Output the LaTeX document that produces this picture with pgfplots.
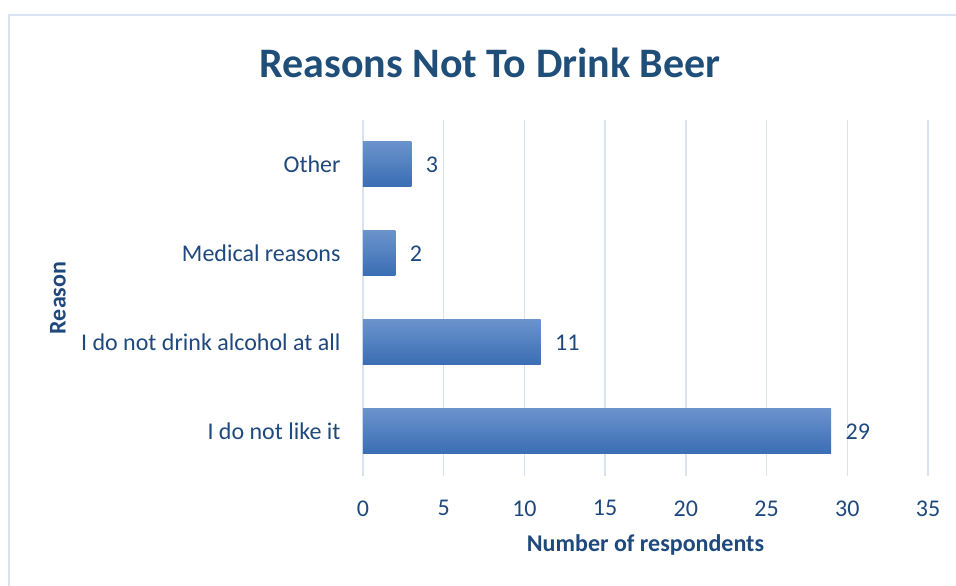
\documentclass[border=0pt]{standalone}
\usepackage{pgfplots}
\pgfplotsset{compat=1.18}
\usepackage{fontspec}
\setmainfont{Carlito}
\definecolor{txt}{HTML}{1F497D}
\definecolor{ttl}{HTML}{1F4E79}
\definecolor{grd}{HTML}{D9E3F2}
\definecolor{bartop}{HTML}{6A93CC}
\definecolor{barbot}{HTML}{3A6DB4}
\begin{document}
\begin{tikzpicture}[x=1pt,y=1pt]
\useasboundingbox (0,0) rectangle (956,586);
\draw[grd, line width=2pt] (9,0) -- (9,571) -- (956,571);
\node[font=\bfseries\fontsize{42}{48}\selectfont, text=ttl] at (490,523) {Reasons Not To Drink Beer};
\begin{axis}[at={(363pt,110pt)}, anchor=south west, width=565pt, height=356pt, scale only axis,
 xbar, bar shift=0pt, xmin=0, xmax=35, ymin=0.5, ymax=4.5,
 xtick={0,5,...,35}, ytick={1,2,3,4},
 yticklabels={I do not like it, I do not drink alcohol at all, Medical reasons, Other},
 axis line style={draw=none}, major tick length=0pt,
 xmajorgrids, grid style={grd, line width=1.5pt},
 tick label style={font=\fontsize{24}{28}\selectfont, text=txt},
 /pgf/number format/assume math mode=true,
 xticklabel style={yshift=-21pt},
 yticklabel style={xshift=-19pt},
 xlabel={Number of respondents}, ylabel={Reason},
 label style={font=\bfseries\fontsize{24}{28}\selectfont, text=txt},
 xlabel style={at={(axis description cs:0.5,-0.194)}, anchor=center},
 ylabel style={at={(axis description cs:-0.540,0.5)}, anchor=center},
 bar width=45pt, nodes near coords,
 nodes near coords style={font=\fontsize{24}{28}\selectfont, text=txt, anchor=west, xshift=11pt},
 every axis plot/.append style={draw=none, top color=bartop, bottom color=barbot},
]
\addplot coordinates {(29,1)};
\addplot coordinates {(11,2)};
\addplot coordinates {(2,3)};
\addplot coordinates {(3,4)};
\end{axis}
\end{tikzpicture}
\end{document}
